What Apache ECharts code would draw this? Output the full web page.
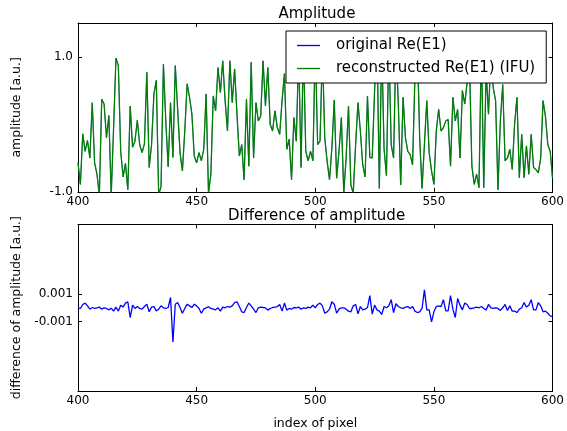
<!DOCTYPE html>
<html>
<head>
<meta charset="utf-8">
<script src="https://cdn.jsdelivr.net/npm/echarts@6/dist/echarts.min.js"></script>
<style>
html,body{margin:0;padding:0;background:#fff;}
#chart{width:567px;height:431px;}
</style>
</head>
<body>
<div id="chart"></div>
<script>
// pixel index range 400..600
const pixelStart = 400;
const pixelCount = 201;
const xTicks = [400, 450, 500, 550, 600];
const ampTicks = [-1.0, 1.0];
const diffTicks = [-0.001, 0.001];

// reconstructed Re(E1) (IFU); original Re(E1) is indistinguishable at this scale
const amplitude = [
-0.57,-0.89,-0.14,-0.40,-0.24,-0.50,0.32,-0.57,-0.74,-1.05,
0.37,0.30,-0.20,0.13,-1.05,-0.05,0.98,0.87,-0.40,-0.78,
-0.58,-0.97,0.27,-0.34,-0.25,0.06,-0.30,-0.42,-0.29,0.77,
-0.64,-0.30,0.45,0.65,-1.05,-0.92,0.89,0.05,-0.63,0.32,
-0.49,0.87,0.22,-0.42,-0.69,-0.10,0.60,0.40,0.15,-0.47,
-0.57,-0.42,-0.54,-0.37,0.45,-1.02,-0.74,0.42,0.20,0.84,
0.47,0.94,0.35,-0.10,0.94,0.32,0.82,0.15,-0.47,-0.30,
-0.82,0.37,-0.62,0.92,-0.50,0.32,0.05,0.12,0.94,0.27,
0.84,0.00,-0.10,0.20,-0.05,-0.15,0.35,0.75,-0.37,-0.22,
-0.82,0.10,-0.25,1.10,-0.64,1.15,-0.40,-0.54,-0.40,-0.54,
1.20,-0.30,-0.25,1.10,-0.20,-0.55,-0.82,-0.35,0.36,-0.80,
-0.40,0.10,-1.02,-0.50,0.27,-0.90,-1.02,-0.30,0.32,-0.10,
-0.60,-0.78,0.42,-0.49,-0.50,0.50,1.30,-0.95,1.20,-0.37,
-0.76,1.20,-0.30,-0.50,1.20,0.30,-0.90,0.40,-0.20,-0.40,
-0.45,-0.60,0.70,1.20,-0.20,-0.95,-0.30,0.35,-0.42,-0.69,
-0.89,-0.10,0.22,-0.10,-0.05,0.05,0.07,-0.62,0.40,0.05,
0.22,-0.50,0.50,0.30,0.62,0.90,-0.62,-0.89,-0.74,-0.94,
1.20,-0.94,0.80,0.15,1.00,0.54,0.35,-0.97,0.05,0.59,
-0.54,-0.50,-0.37,-0.67,0.00,0.40,-0.79,-0.15,-0.79,-0.32,
-0.74,-0.15,-0.64,-0.67,-0.72,-0.50,0.35,0.12,-0.30,-0.40,
-0.80
];

// difference of amplitude
const difference = [
-0.01e-3,-0.06e-3,0.23e-3,0.33e-3,0.13e-3,-0.11e-3,0.01e-3,-0.06e-3,-0.01e-3,0.04e-3,
-0.11e-3,-0.01e-3,-0.06e-3,-0.16e-3,-0.04e-3,-0.25e-3,0.04e-3,-0.25e-3,0.18e-3,0.04e-3,
0.33e-3,0.42e-3,-0.71e-3,0.18e-3,-0.06e-3,0.08e-3,-0.06e-3,-0.11e-3,0.08e-3,0.25e-3,
-0.30e-3,0.04e-3,0.08e-3,-0.23e-3,-0.11e-3,0.13e-3,-0.01e-3,-0.06e-3,0.01e-3,0.73e-3,
-2.47e-3,0.25e-3,0.37e-3,0.01e-3,-0.40e-3,-0.06e-3,0.25e-3,0.13e-3,0.01e-3,0.25e-3,
0.13e-3,-0.06e-3,-0.40e-3,-0.11e-3,-0.01e-3,0.06e-3,-0.06e-3,-0.11e-3,-0.16e-3,-0.01e-3,
-0.25e-3,0.04e-3,-0.01e-3,0.08e-3,0.04e-3,0.13e-3,0.37e-3,0.42e-3,0.08e-3,-0.30e-3,
-0.35e-3,0.01e-3,0.33e-3,0.13e-3,-0.11e-3,-0.35e-3,-0.01e-3,0.04e-3,0.01e-3,-0.01e-3,
-0.18e-3,-0.06e-3,0.01e-3,0.04e-3,0.08e-3,0.23e-3,-0.25e-3,0.33e-3,-0.18e-3,-0.06e-3,
-0.11e-3,0.01e-3,-0.01e-3,0.04e-3,-0.11e-3,-0.01e-3,-0.06e-3,0.04e-3,-0.01e-3,0.18e-3,
-0.01e-3,0.23e-3,0.33e-3,0.13e-3,-0.40e-3,-0.30e-3,-0.11e-3,0.42e-3,0.25e-3,-0.40e-3,
-0.11e-3,-0.01e-3,-0.01e-3,-0.11e-3,-0.25e-3,-0.30e-3,0.13e-3,0.23e-3,-0.45e-3,0.08e-3,
-0.16e-3,-0.11e-3,0.01e-3,0.86e-3,-0.47e-3,0.18e-3,-0.16e-3,-0.25e-3,-0.49e-3,0.08e-3,
-0.01e-3,0.13e-3,0.57e-3,-0.35e-3,0.28e-3,0.08e-3,-0.01e-3,-0.06e-3,0.04e-3,0.08e-3,
-0.06e-3,0.08e-3,-0.25e-3,-0.35e-3,-0.30e-3,-0.06e-3,1.29e-3,-0.16e-3,-0.16e-3,-1.02e-3,
-0.30e-3,0.08e-3,0.13e-3,0.08e-3,0.57e-3,-0.23e-3,-0.23e-3,0.86e-3,-0.11e-3,-0.71e-3,
0.66e-3,0.18e-3,-0.16e-3,0.33e-3,0.23e-3,-0.06e-3,-0.06e-3,-0.01e-3,0.04e-3,-0.01e-3,
0.08e-3,-0.06e-3,-0.16e-3,0.23e-3,-0.01e-3,-0.06e-3,-0.01e-3,-0.06e-3,-0.20e-3,-0.01e-3,
0.23e-3,-0.20e-3,0.13e-3,-0.25e-3,-0.25e-3,-0.35e-3,-0.11e-3,-0.01e-3,0.37e-3,0.04e-3,
0.18e-3,0.57e-3,-0.16e-3,-0.16e-3,0.37e-3,0.13e-3,-0.30e-3,-0.25e-3,-0.40e-3,-0.59e-3,
-0.64e-3
];

const pixels = [];
for (let i = 0; i < pixelCount; i++) pixels.push(pixelStart + i);
const pairs = (vals) => pixels.map((p, i) => [p, vals[i]]);

const FONT = 'DejaVu Sans';
const black = '#000';
const tickStyle = { show: true, inside: true, length: 4, lineStyle: { color: black, width: 1 } };
const lineAxis = { show: true, onZero: false, lineStyle: { color: black, width: 1 } };

function xAx(grid, pos, labels, extra) {
  return Object.assign({
    type: 'value', gridIndex: grid, position: pos, min: 400, max: 600, interval: 50,
    axisLine: lineAxis, axisTick: tickStyle, splitLine: { show: false },
    axisLabel: { show: labels, margin: 4, fontSize: 12, color: black, fontFamily: FONT,
                 customValues: xTicks }
  }, extra || {});
}
function yAx(grid, pos, labels, min, max, ticks, fmt, extra) {
  return Object.assign({
    type: 'value', gridIndex: grid, position: pos, min: min, max: max,
    axisLine: lineAxis,
    axisTick: Object.assign({ customValues: ticks }, tickStyle),
    splitLine: { show: false },
    axisLabel: { show: labels, margin: 5, fontSize: 12, color: black, fontFamily: FONT,
                 customValues: ticks, formatter: fmt }
  }, extra || {});
}

const chart = echarts.init(document.getElementById('chart'), null, { renderer: 'canvas' });
chart.setOption({
  animation: false,
  backgroundColor: '#fff',
  title: [
    { text: 'Amplitude', left: 278.5, top: 7, padding: 0,
      textStyle: { fontFamily: FONT, fontSize: 15, fontWeight: 'normal', color: black } },
    { text: 'Difference of amplitude', left: 228, top: 209, padding: 0,
      textStyle: { fontFamily: FONT, fontSize: 15, fontWeight: 'normal', color: black } }
  ],
  legend: {
    left: 286, top: 31, orient: 'vertical',
    padding: [7, 11, 7, 11], itemWidth: 23, itemHeight: 1.3, itemGap: 8,
    icon: 'rect',
    backgroundColor: '#fff', borderColor: '#000', borderWidth: 1, borderRadius: 0,
    textStyle: { fontFamily: FONT, fontSize: 15, color: black, padding: [0, 0, 0, 11] },
    data: ['original Re(E1)', 'reconstructed Re(E1) (IFU)']
  },
  grid: [
    { left: 78, right: 11.5, top: 23, height: 168.8 },
    { left: 78, right: 11.5, top: 224.3, height: 168.7 }
  ],
  xAxis: [
    xAx(0, 'bottom', true),
    xAx(0, 'top', false),
    xAx(1, 'bottom', true, { name: 'index of pixel', nameLocation: 'middle', nameGap: 26,
        nameTextStyle: { fontFamily: FONT, fontSize: 12.5, color: black } }),
    xAx(1, 'top', false)
  ],
  yAxis: [
    yAx(0, 'left', true, -1, 1.5, ampTicks, v => v.toFixed(1),
        { name: 'amplitude [a.u.]', nameLocation: 'middle', nameGap: 55, nameRotate: 90,
          nameTextStyle: { fontFamily: FONT, fontSize: 12.5, color: black } }),
    yAx(0, 'right', false, -1, 1.5, ampTicks),
    yAx(1, 'left', true, -0.006, 0.006, diffTicks, v => String(v),
        { name: 'difference of amplitude [a.u.]', nameLocation: 'middle', nameGap: 55, nameRotate: 90,
          nameTextStyle: { fontFamily: FONT, fontSize: 12.5, color: black } }),
    yAx(1, 'right', false, -0.006, 0.006, diffTicks)
  ],
  series: [
    { name: 'original Re(E1)', type: 'line', xAxisIndex: 0, yAxisIndex: 0,
      data: pairs(amplitude), showSymbol: false, symbol: 'none', clip: true, z: 2,
      color: '#0000ff', lineStyle: { color: '#0000ff', width: 0.6 } },
    { name: 'reconstructed Re(E1) (IFU)', type: 'line', xAxisIndex: 0, yAxisIndex: 0,
      data: pairs(amplitude), showSymbol: false, symbol: 'none', clip: true, z: 3,
      color: '#008000', lineStyle: { color: '#008000', width: 1.3 } },
    { name: 'difference', type: 'line', xAxisIndex: 2, yAxisIndex: 2,
      data: pairs(difference), showSymbol: false, symbol: 'none', clip: true,
      color: '#0000ff', lineStyle: { color: '#0000ff', width: 1.3 } }
  ]
});
</script>
</body>
</html>
